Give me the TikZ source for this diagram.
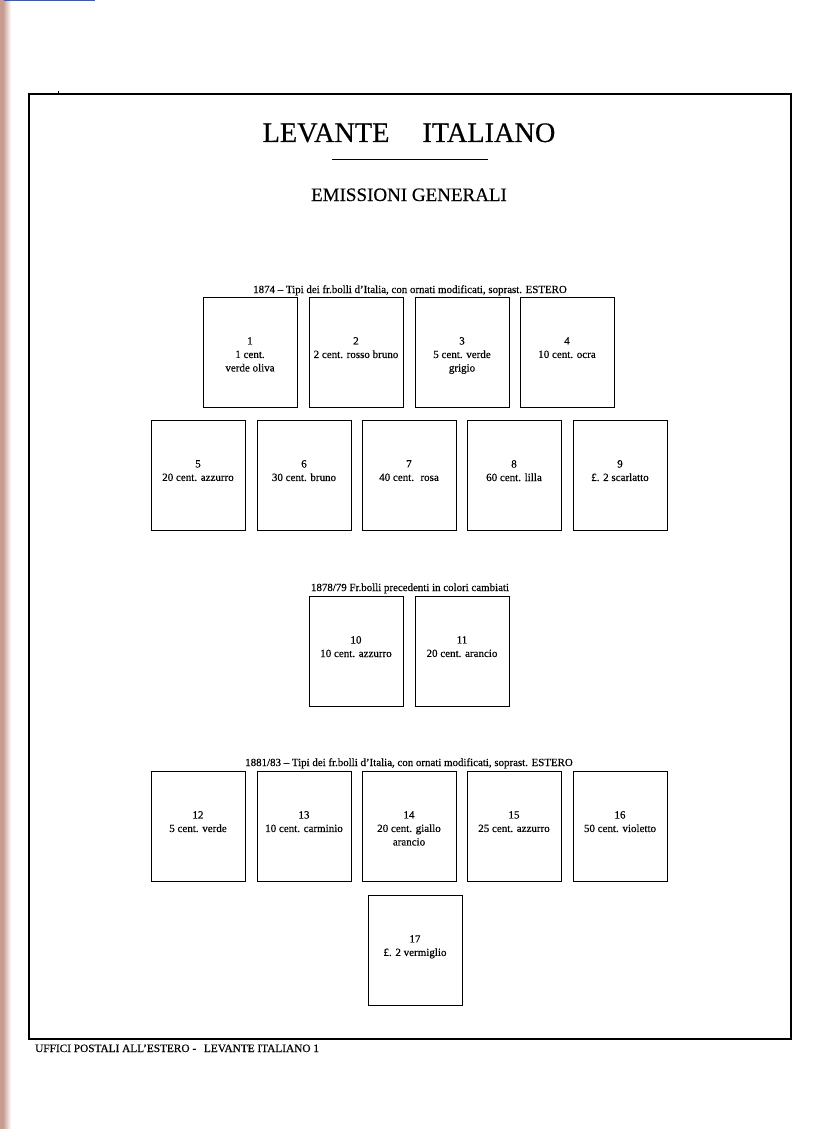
\documentclass[tikz,border=0pt]{standalone}
\usepackage{fontspec}
\setmainfont[FakeBold=0.35]{Liberation Serif}
\lineskiplimit=-8pt\relax
\newcommand{\stampbox}[4]{%
  \node[stampnode] (s#1) at (#2,#3) {};
  \node[stxt] (t#1) at ([yshift=-40pt]s#1.north) {#1\\#4};}
\begin{document}
\begin{tikzpicture}[x=1pt,y=-1pt,
  stampnode/.style={draw=black, line width=0.9pt, minimum width=94pt, minimum height=110pt, inner sep=0pt, outer sep=0pt, anchor=north west},
  stxt/.style={anchor=north, align=center, font=\fontsize{11}{13.5}\selectfont, inner sep=0pt},
  hdr/.style={font=\fontsize{10.9}{12}\selectfont, inner sep=0pt, anchor=base}]
\useasboundingbox (0,0) rectangle (838,1129);
\fill[white] (0,0) rectangle (838,1129);
% scan edge
\fill[color={rgb,255:red,200;green,155;blue,145}] (0,0) rectangle (3,1129);
\shade[left color={rgb,255:red,200;green,155;blue,145}, right color=white] (3,0) rectangle (11,1129);
\draw[color={rgb,255:red,60;green,90;blue,170}, line width=1.2pt] (4,0.8) -- (95,0.8);
% frame
\node[draw=black, line width=1.2pt, minimum width=762pt, minimum height=945pt, inner sep=0pt, outer sep=0pt, anchor=north west] (frame) at (29,94) {};
\draw[line width=0.8pt] (58,91) -- (58,93);
% title
\node[font=\fontsize{28.3}{30}\selectfont, inner sep=0pt, anchor=base] (title) at (409,142) {LEVANTE\hspace{33pt}ITALIANO};
\coordinate (ulL) at (332,159);
\coordinate (ulR) at (488,159);
\draw[line width=1pt] (ulL) -- (ulR);
\node[font=\fontsize{19}{20}\selectfont, inner sep=0pt, anchor=base] (sub) at (409,201) {EMISSIONI GENERALI};
% row labels
\node[hdr] (h1) at (410,293) {1874 – Tipi dei fr.bolli d’Italia, con ornati modificati, soprast. ESTERO};
\node[hdr] (h2) at (410,591) {1878/79 Fr.bolli precedenti in colori cambiati};
\node[hdr] (h3) at (409,766) {1881/83 – Tipi dei fr.bolli d’Italia, con ornati modificati, soprast. ESTERO};
% row 1
\stampbox{1}{203}{297}{1 cent.\\verde oliva}
\stampbox{2}{309}{297}{2 cent. rosso bruno}
\stampbox{3}{415}{297}{5 cent. verde\\grigio}
\stampbox{4}{520}{297}{10 cent. ocra}
% row 2
\stampbox{5}{151}{420}{20 cent. azzurro}
\stampbox{6}{257}{420}{30 cent. bruno}
\stampbox{7}{362}{420}{40 cent.~ rosa}
\stampbox{8}{467}{420}{60 cent. lilla}
\stampbox{9}{573}{420}{£. 2 scarlatto}
% row 3
\stampbox{10}{309}{596}{10 cent. azzurro}
\stampbox{11}{415}{596}{20 cent. arancio}
% row 4
\stampbox{12}{151}{771}{5 cent. verde}
\stampbox{13}{257}{771}{10 cent. carminio}
\stampbox{14}{362}{771}{20 cent. giallo\\arancio}
\stampbox{15}{467}{771}{25 cent. azzurro}
\stampbox{16}{573}{771}{50 cent. violetto}
% row 5
\stampbox{17}{368}{895}{£. 2 vermiglio}
% footer
\node[font=\fontsize{11.3}{13}\selectfont, inner sep=0pt, anchor=base west] (foot) at (35,1052) {UFFICI POSTALI ALL’ESTERO -\hspace{5pt} LEVANTE ITALIANO 1};
\end{tikzpicture}
\end{document}
